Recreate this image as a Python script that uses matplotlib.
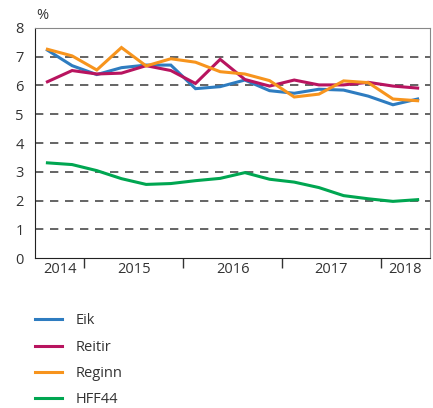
import matplotlib

matplotlib.use("Agg")
import matplotlib.pyplot as plt

plt.rcParams["font.family"] = ["Open Sans", "DejaVu Sans"]

years = ["2014", "2015", "2016", "2017", "2018"]
quarters_per_year = [2, 4, 4, 4, 2]

eik = [7.23, 6.69, 6.38, 6.62, 6.71, 6.71, 5.89, 5.96, 6.19, 5.82, 5.73, 5.87, 5.84, 5.63, 5.33, 5.53]
reitir = [6.13, 6.52, 6.40, 6.43, 6.69, 6.52, 6.07, 6.91, 6.21, 5.98, 6.19, 6.02, 6.02, 6.11, 5.98, 5.91]
reginn = [7.26, 7.03, 6.54, 7.32, 6.68, 6.93, 6.81, 6.48, 6.40, 6.17, 5.60, 5.70, 6.16, 6.10, 5.53, 5.47]
hff44 = [3.31, 3.25, 3.04, 2.76, 2.56, 2.59, 2.69, 2.77, 2.97, 2.74, 2.64, 2.45, 2.17, 2.06, 1.97, 2.03]

series = [
    ("Eik", eik, "#2e7cc0"),
    ("Reitir", reitir, "#b8145f"),
    ("Reginn", reginn, "#f7941d"),
    ("HFF44", hff44, "#00a651"),
]

fig = plt.figure(figsize=(4.33, 4.08), dpi=100)
ax = fig.add_axes([0.081, 0.3676, 0.912, 0.5638])

x = list(range(len(eik)))
for label, values, color in series:
    ax.plot(x, values, color=color, lw=2.2, label=label, solid_joinstyle="miter")

ax.set_xlim(-0.5, len(eik) - 0.5)
ax.set_ylim(0, 8)
ax.set_yticks(range(0, 9))
ax.tick_params(axis="y", length=0, labelsize=10.5, pad=8)
for yv in range(1, 8):
    ax.axhline(yv, color="#4a4a4a", lw=1.2, ls=(0, (5, 4)), zorder=0)

# year separators as ticks, labels centred on each year
edges = [-0.5]
for n in quarters_per_year:
    edges.append(edges[-1] + n)
ax.set_xticks(edges[1:-1])
ax.set_xticklabels([])
ax.tick_params(axis="x", length=7, width=1, color="#333333", direction="out")
for i, yr in enumerate(years):
    ax.text((edges[i] + edges[i + 1]) / 2, -0.018, yr, ha="center", va="top",
            fontsize=10.5, color="#333333", transform=ax.get_xaxis_transform())

ax.spines["left"].set_color("#222222")
ax.spines["bottom"].set_color("#222222")
ax.spines["top"].set_color("#888888")
ax.spines["right"].set_color("#888888")
ax.tick_params(axis="y", labelcolor="#333333")

fig.text(0.097, 0.963, "%", fontsize=10.5, color="#333333", ha="center", va="center")

fig.legend(loc="upper left", bbox_to_anchor=(0.081, 0.232), frameon=False,
           fontsize=10.5, handlelength=1.85, handletextpad=0.95, labelspacing=0.78,
           borderpad=0, borderaxespad=0, labelcolor="#333333")

fig.savefig("out.png", dpi=100)
plt.close(fig)
